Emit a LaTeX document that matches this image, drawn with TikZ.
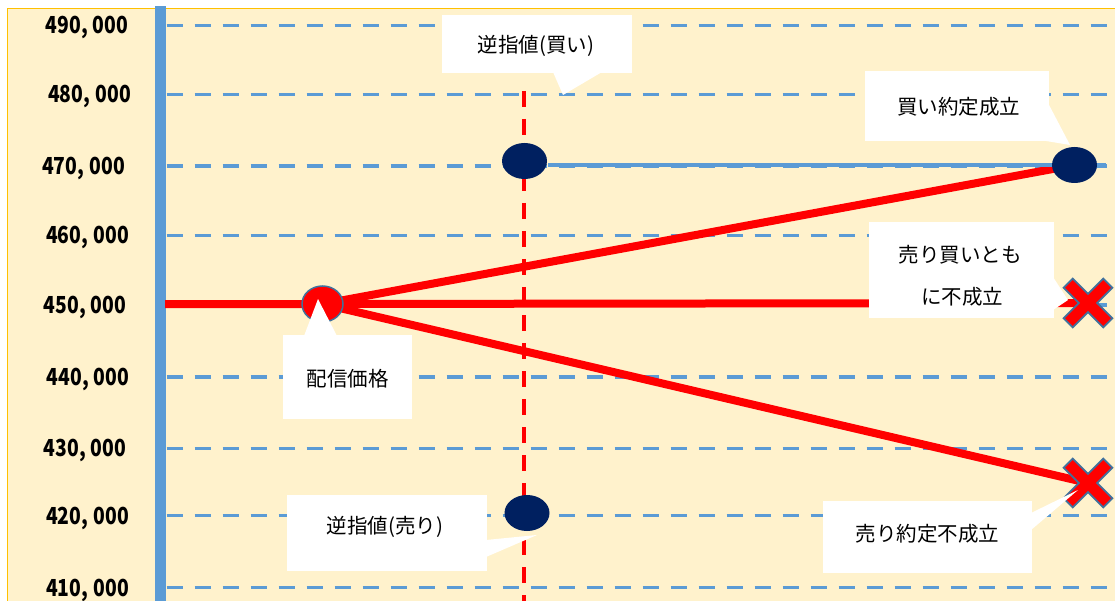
\documentclass[tikz,border=0pt]{standalone}
\usepackage{fontspec}
\setmainfont{Noto Sans CJK JP}
\usetikzlibrary{shapes.geometric}
\definecolor{bgyellow}{HTML}{FFF2CC}
\definecolor{frameorange}{HTML}{FFC000}
\definecolor{axisblue}{HTML}{5B9BD5}
\definecolor{navydot}{HTML}{002060}
\definecolor{xedge}{HTML}{41719C}
\tikzset{
  gridline/.style={draw=axisblue, line width=3.3pt, dash pattern=on 16pt off 12pt},
  redline/.style={draw=red, line width=8pt},
  reddash/.style={draw=red, line width=4pt, dash pattern=on 16pt off 12pt},
  navy/.style={ellipse, fill=navydot, minimum width=45pt, minimum height=36pt, inner sep=0pt},
  pricedot/.style={ellipse, fill=red, draw=xedge, line width=1.5pt, minimum width=41pt, minimum height=36pt, inner sep=0pt},
  bubble/.style={rectangle, fill=white, draw=none, inner sep=0pt},
  bubtext/.style={font=\fontsize{20.5}{24}\selectfont, inner sep=0pt, text=black},
  axislabel/.style={font=\fontsize{23}{26}\selectfont\bfseries, inner sep=0pt},
  crossmark/.style={fill=red, draw=xedge, line width=1.8pt, line join=miter}
}
\newcommand{\yen}[2]{\scalebox{0.84}[1.02]{#1\makebox[0.62em][l]{,}#2}}
\newcommand{\xmark}[1]{%
  \begin{scope}[shift={(#1)}, rotate=45]
    \path[crossmark] (6.5,28) -- (6.5,6.5) -- (28,6.5) -- (28,-6.5) -- (6.5,-6.5) -- (6.5,-28)
      -- (-6.5,-28) -- (-6.5,-6.5) -- (-28,-6.5) -- (-28,6.5) -- (-6.5,6.5) -- (-6.5,28) -- cycle;
  \end{scope}}
\begin{document}
\begin{tikzpicture}[x=1pt,y=-1pt]
\useasboundingbox (0,0) rectangle (1115,601);
% background
\fill[white] (0,0) rectangle (1115,601);
\draw[draw=frameorange, fill=bgyellow, line width=1.5pt] (7.5,8.5) rectangle (1130,615);
% axis bar
\fill[axisblue] (155,6) rectangle (166,601);
% grid lines
\foreach \gy in {25.7,94.3,166,235.5,305,377,448.3,515.7,587.7}
  \draw[gridline] (166.5,\gy) -- (1108,\gy);
% vertical dashed red line
\coordinate (vtop) at (524,91);
\coordinate (vbot) at (524,601);
\draw[reddash] (vtop) -- (vbot);
% key coordinates
\coordinate (axL) at (165,304);
\coordinate (p) at (322.5,304);
\coordinate (b1) at (524.5,161);
\coordinate (s1) at (527,513);
\coordinate (b2) at (1074.5,165);
\coordinate (x1) at (1088,303);
\coordinate (x2) at (1088,483);
% red price paths
\draw[redline] (axL) -- (p) -- (x1);
\draw[redline] (p) -- (b2);
\draw[redline] (p) -- (x2);
% solid blue line at 470,000
\draw[draw=axisblue, line width=4pt] (548,165.5) -- (1106,165.5);
% dots
\node[navy] (B1) at (b1) {};
\node[navy] (S1) at (s1) {};
\node[navy] (B2) at (b2) {};
\node[pricedot] (P) at (p) {};
\xmark{x1}
\xmark{x2}
% callouts
% 逆指値(買い)
\node[bubble, minimum width=190pt, minimum height=58pt] (c1) at (537,44) {};
\coordinate (c1tip) at (563,95);
\fill[white] (553,72) -- (c1tip) -- (602,72) -- cycle;
\node[bubtext] (t1) at (536,45.5) {逆指値(買い)};
% 買い約定成立
\node[bubble, minimum width=184pt, minimum height=70pt] (c2) at (957,106) {};
\coordinate (c2tip) at (1070,145);
\fill[white] (1048,103) -- (c2tip) -- (1040,140) -- cycle;
\node[bubtext] (t2) at (958.5,106.5) {買い約定成立};
% 売り買いとも に不成立
\node[bubble, minimum width=185pt, minimum height=96pt] (c3) at (961.5,270) {};
\coordinate (c3tip) at (1068,300);
\fill[white] (1053,277) -- (c3tip) -- (1053,310) -- cycle;
\node[bubtext] (t3a) at (960,255) {売り買いとも};
\node[bubtext] (t3b) at (962,297) {に不成立};
% 売り約定不成立
\node[bubble, minimum width=209pt, minimum height=72pt] (c4) at (927.5,537) {};
\coordinate (c4tip) at (1078,490);
\fill[white] (1031,513) -- (c4tip) -- (1031,530) -- cycle;
\node[bubtext] (t4) at (927.5,533.5) {売り約定不成立};
% 配信価格
\node[bubble, minimum width=129pt, minimum height=84pt] (c5) at (347.5,377) {};
\coordinate (c5tip) at (318,299);
\fill[white] (304,336) -- (c5tip) -- (337,336) -- cycle;
\node[bubtext] (t5) at (347.5,378.5) {配信価格};
% 逆指値(売り)
\node[bubble, minimum width=200pt, minimum height=76pt] (c6) at (387,533) {};
\coordinate (c6tip) at (537,535);
\fill[white] (486,540) -- (c6tip) -- (486,557) -- cycle;
\node[bubtext] (t6) at (385,526.5) {逆指値(売り)};
% axis labels
\node[axislabel] (l490) at (87,27.5) {\yen{490}{000}};
\node[axislabel] (l480) at (89.5,96.5) {\yen{480}{000}};
\node[axislabel] (l470) at (83.5,168) {\yen{470}{000}};
\node[axislabel] (l460) at (87.5,237.5) {\yen{460}{000}};
\node[axislabel] (l450) at (85,307) {\yen{450}{000}};
\node[axislabel] (l440) at (88,379) {\yen{440}{000}};
\node[axislabel] (l430) at (85,450.5) {\yen{430}{000}};
\node[axislabel] (l420) at (87.5,518) {\yen{420}{000}};
\node[axislabel] (l410) at (87.5,590) {\yen{410}{000}};
\end{tikzpicture}
\end{document}
